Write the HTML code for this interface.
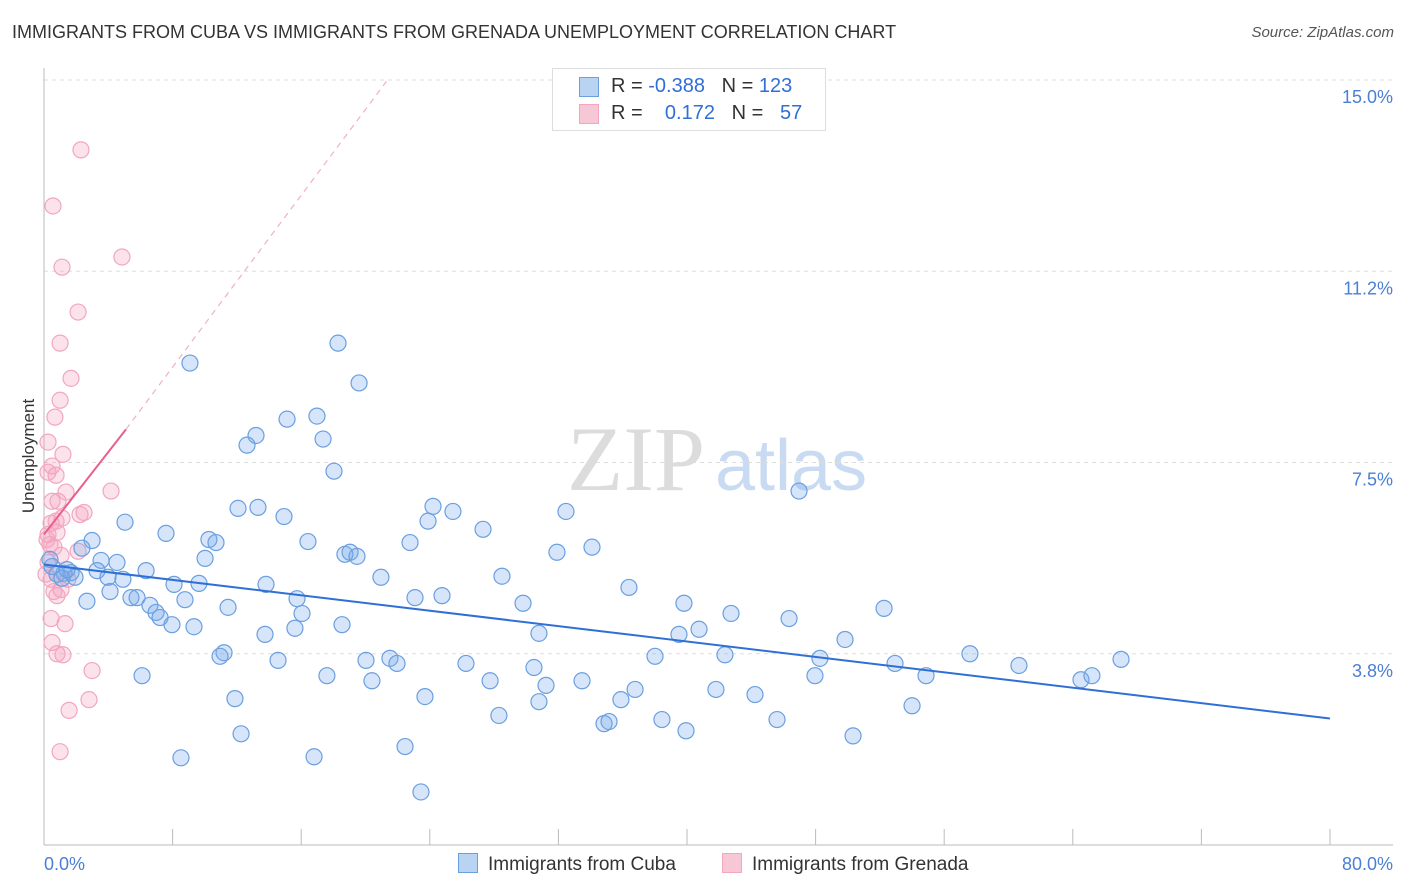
<!DOCTYPE html>
<html><head><meta charset="utf-8">
<style>
body{margin:0;background:#fff;font-family:"Liberation Sans",sans-serif;}
#wrap{position:relative;width:1406px;height:892px;overflow:hidden;}
.t{position:absolute;white-space:nowrap;}
</style></head><body>
<div id="wrap">
<div class="t" style="left:12px;top:22px;font-size:18px;color:#333;">IMMIGRANTS FROM CUBA VS IMMIGRANTS FROM GRENADA UNEMPLOYMENT CORRELATION CHART</div>
<div class="t" style="right:12px;top:24px;font-size:15px;color:#555;font-style:italic;">Source: ZipAtlas.com</div>
<svg id="svg" width="1406" height="892" style="position:absolute;left:0;top:0"></svg>
</div>
<script>
const yTicks=[3.75,7.5,11.25,15];
const yTickLabels=["3.8%","7.5%","11.2%","15.0%"];
const xTickVals=[0,8,16,24,32,40,48,56,64,72,80];
const cubaX=[9.08,18.29,19.6,16.98,15.12,13.19,12.63,17.36,18.04,46.97,5.04,7.59,12.07,13.31,14.93,16.42,10.26,10.7,10.02,24.2,23.89,25.44,27.31,22.77,32.47,34.09,31.91,18.72,19.04,19.47,20.96,28.49,2.99,2.36,3.55,4.54,3.3,1.68,1.24,0.81,0.5,1.12,1.93,2.67,4.11,3.98,4.91,5.41,5.79,6.35,6.59,6.97,7.22,8.09,8.77,7.96,9.33,9.64,11.45,13.81,15.74,16.05,15.61,13.75,18.54,23.08,24.76,29.8,30.79,36.39,39.81,40.75,39.5,42.74,46.35,52.26,49.83,11.2,10.95,14.56,17.6,20.03,20.4,21.52,21.96,23.7,26.25,27.75,28.3,30.48,31.23,30.79,33.47,34.84,35.15,35.89,36.77,38.01,38.44,39.94,41.8,42.36,44.23,45.6,47.96,48.27,50.33,52.94,54.87,54.0,57.6,60.65,64.51,65.19,67.0,6.1,11.88,12.26,8.52,16.8,22.46,23.45,1.43,0.37];
const cubaY=[9.45,9.84,9.06,8.41,8.35,8.03,7.84,7.96,7.33,6.94,6.33,6.11,6.6,6.62,6.44,5.95,5.99,5.93,5.62,6.64,6.35,6.54,6.19,5.93,6.54,5.84,5.74,5.7,5.74,5.66,5.25,5.27,5.97,5.82,5.58,5.54,5.38,5.34,5.33,5.31,5.46,5.23,5.25,4.78,4.97,5.25,5.21,4.85,4.85,5.38,4.7,4.56,4.46,5.11,4.81,4.32,4.28,5.13,4.66,5.11,4.83,4.54,4.25,4.13,4.32,4.85,4.89,4.74,4.15,5.05,4.74,4.23,4.13,4.54,4.44,4.64,4.03,3.77,3.7,3.62,3.32,3.62,3.22,3.66,3.56,2.91,3.56,3.22,2.54,3.48,3.13,2.81,3.22,2.38,2.42,2.85,3.05,3.7,2.46,2.24,3.05,3.73,2.95,2.46,3.32,3.66,2.14,3.56,3.32,2.73,3.75,3.52,3.24,3.32,3.64,3.32,2.87,2.18,1.71,1.73,1.93,1.04,5.4,5.6];
const grenX=[2.3,0.56,1.12,4.85,2.12,1.0,1.68,1.0,0.68,0.25,1.18,0.5,0.75,0.25,1.37,0.87,0.5,2.49,2.24,1.12,0.75,0.44,0.25,0.81,0.62,0.37,0.19,1.06,0.25,2.12,0.12,0.44,1.06,0.81,0.62,0.44,1.31,0.5,0.81,1.18,2.99,2.8,1.56,1.0,4.17,1.49];
const grenY=[13.63,12.53,11.33,11.53,10.45,9.84,9.15,8.72,8.39,7.9,7.66,7.43,7.25,7.31,6.92,6.74,6.74,6.52,6.48,6.41,6.35,6.31,6.09,6.13,5.84,5.89,5.99,5.68,5.54,5.76,5.31,5.21,5.01,4.89,4.97,4.44,4.34,3.97,3.75,3.73,3.42,2.85,2.64,1.83,6.94,5.21];
const cubaTrendX=[0,80];
const cubaTrendY=[5.5,2.48];
const grenTrendX=[0,5.1];
const grenTrendY=[6.09,8.15];
const grenDashX=[5.1,21.3];
const grenDashY=[8.15,14.97];

const X=v=>44+v*16.075;
const Y=v=>845-v*51;
const NS="http://www.w3.org/2000/svg";
const svg=document.getElementById('svg');
function mk(tag,attrs,parent){const e=document.createElementNS(NS,tag);for(const k in attrs)e.setAttribute(k,attrs[k]);(parent||svg).appendChild(e);return e;}

// watermark
let wm=mk('text',{x:705,y:490,'font-size':92,'font-family':'Liberation Serif, serif',fill:'#dcdcdc','text-anchor':'end'});
wm.textContent='ZIP';


let wm2=mk('text',{x:715,y:490,'font-size':72,'font-family':'Liberation Sans, sans-serif',fill:'#c9dbf2'});
wm2.textContent='atlas';



// gridlines & y labels
yTicks.forEach((v,i)=>{
  let g=mk('line',{x1:44,x2:1393,y1:Y(v),y2:Y(v),stroke:'#dddddd','stroke-dasharray':'4,4'});
  
  
  let t=mk('text',{x:1393,y:Y(v)+23,'font-size':18,fill:'#4a7fd4','text-anchor':'end'});
  t.textContent=yTickLabels[i];
  
  
});
// axes
let ax=mk('line',{x1:44,x2:1393,y1:845,y2:845,stroke:'#bbb'});


let ay=mk('line',{x1:44,x2:44,y1:68,y2:845,stroke:'#bbb'});


xTickVals.forEach(v=>{
  let t=mk('line',{x1:X(v),x2:X(v),y1:829,y2:845,stroke:'#bbb'});
  
  
});
let xl0=mk('text',{x:44,y:870,'font-size':18,fill:'#4a7fd4'});xl0.textContent='0.0%';


let xl1=mk('text',{x:1393,y:870,'font-size':18,fill:'#4a7fd4','text-anchor':'end'});xl1.textContent='80.0%';


let yt=mk('text',{x:34,y:456,'font-size':17,fill:'#333','text-anchor':'middle',transform:'rotate(-90 34 456)'});yt.textContent='Unemployment';



// points
grenX.forEach((x,i)=>{
  let c=mk('circle',{cx:X(x),cy:Y(grenY[i]),r:8,fill:'rgba(244,160,190,0.3)',stroke:'#f2a6bf','stroke-width':1.2});
  
  
});
cubaX.forEach((x,i)=>{
  let c=mk('circle',{cx:X(x),cy:Y(cubaY[i]),r:8,fill:'rgba(120,170,235,0.3)',stroke:'#6a9fe0','stroke-width':1.2});
  
  
});
// trends
let bt=mk('line',{x1:X(cubaTrendX[0]),y1:Y(cubaTrendY[0]),x2:X(cubaTrendX[1]),y2:Y(cubaTrendY[1]),stroke:'#2f6fd6','stroke-width':2});


let pd=mk('line',{x1:X(grenDashX[0]),y1:Y(grenDashY[0]),x2:X(grenDashX[1]),y2:Y(grenDashY[1]),stroke:'#f0b0c4','stroke-width':1.2,'stroke-dasharray':'6,5'});


let pt=mk('line',{x1:X(grenTrendX[0]),y1:Y(grenTrendY[0]),x2:X(grenTrendX[1]),y2:Y(grenTrendY[1]),stroke:'#e8608e','stroke-width':2});


</script>
<div class="t" style="left:552px;top:68px;width:272px;height:61px;border:1px solid #ddd;background:#fff;font-size:20px;">
  <div style="position:absolute;left:26px;top:8px;width:18px;height:18px;background:#b9d3f3;border:1px solid #6a9fe0;"></div>
  <div class="t" style="left:58px;top:6px;color:#333;">R = <span style="color:#2f6fd6">-0.388</span>&nbsp;&nbsp;&nbsp;N = <span style="color:#2f6fd6">123</span></div>
  <div style="position:absolute;left:26px;top:35px;width:18px;height:18px;background:#f8c7d6;border:1px solid #f2a6bf;"></div>
  <div class="t" style="left:58px;top:33px;color:#333;">R = &nbsp;&nbsp;&nbsp;<span style="color:#2f6fd6">0.172</span>&nbsp;&nbsp;&nbsp;N = &nbsp;&nbsp;<span style="color:#2f6fd6">57</span></div>
</div>
<div class="t" style="left:458px;top:853px;font-size:19px;color:#333;"><span style="display:inline-block;width:18px;height:18px;background:#b9d3f3;border:1px solid #6a9fe0;vertical-align:-3px;margin-right:10px;"></span>Immigrants from Cuba</div>
<div class="t" style="left:722px;top:853px;font-size:19px;color:#333;"><span style="display:inline-block;width:18px;height:18px;background:#f8c7d6;border:1px solid #f2a6bf;vertical-align:-3px;margin-right:10px;"></span>Immigrants from Grenada</div>
</body></html>
